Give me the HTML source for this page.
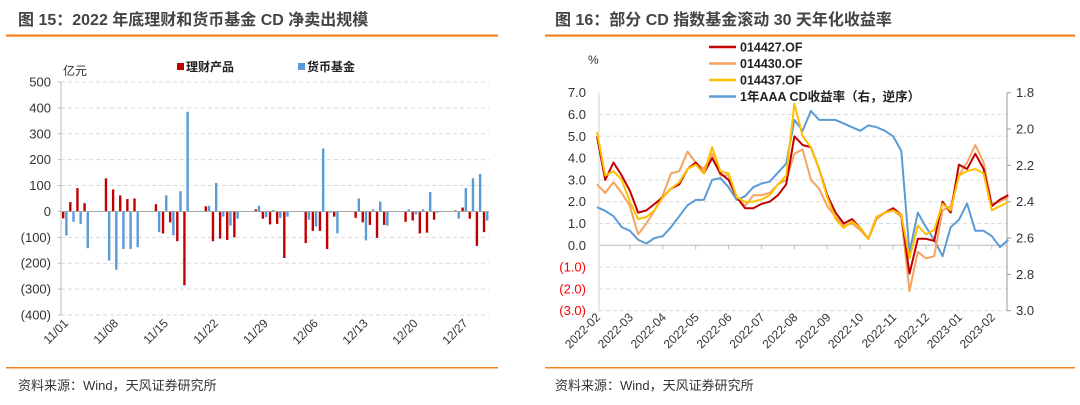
<!DOCTYPE html>
<html><head><meta charset="utf-8">
<style>
html,body{margin:0;padding:0;background:#fff;}
svg{display:block;font-family:"Liberation Sans","Noto Sans CJK SC",sans-serif;}
</style></head>
<body>
<svg id="root" width="1080" height="405" viewBox="0 0 1080 405">
  <g>
    <text x="18" y="25" font-size="16" font-weight="bold" fill="#444">图 15：2022 年底理财和货币基金 CD 净卖出规模</text>
    <rect x="6" y="34.5" width="492" height="2.2" fill="#F5821F"/>
    <rect x="6" y="367" width="492" height="1.5" fill="#F5821F"/>
    <text x="18" y="390" font-size="13" fill="#333">资料来源：Wind，天风证券研究所</text>
    <g id="leftPlot"></g>
  </g>
  <g>
    <text x="555" y="25" font-size="16" font-weight="bold" fill="#444">图 16：部分 CD 指数基金滚动 30 天年化收益率</text>
    <rect x="545" y="34.5" width="530" height="2.2" fill="#F5821F"/>
    <rect x="545" y="367" width="530" height="1.5" fill="#F5821F"/>
    <text x="555" y="390" font-size="13" fill="#333">资料来源：Wind，天风证券研究所</text>
    <g id="rightPlot"></g>
  </g>
</svg>
<script>
// ---------- Left chart data ----------
const leftDayCount = 60;
const leftTickLabels = ["11/01","11/08","11/15","11/22","11/29","12/06","12/13","12/20","12/27"];
const leftYTicks = [500,400,300,200,100,0,-100,-200,-300,-400];
// values indexed by day offset from 11/01 (null = no trading)
const wealthValues = [-27,36,90,32,null,null,128,85,62,48,50,null,null,28,-85,-42,-115,-285,null,null,20,-115,-105,-110,-100,null,null,8,-28,-50,-48,-180,null,null,-122,-75,-75,-145,-20,null,null,-25,-42,-52,-102,-52,null,null,-40,-35,-85,-82,-32,null,null,4,15,-28,-133,-80];
const moneyFundValues = [-93,-40,-48,-142,null,null,-190,-225,-145,-145,-138,null,null,-80,62,-92,78,385,null,null,22,110,-20,-55,-28,null,null,22,-22,5,-25,-20,null,null,-32,-58,243,-5,-85,null,null,50,-112,8,38,-55,null,null,8,-12,8,75,-5,null,null,-28,90,128,145,-35];

// ---------- Right chart data ----------
const monthLabels = ["2022-02","2022-03","2022-04","2022-05","2022-06","2022-07","2022-08","2022-09","2022-10","2022-11","2022-12","2023-01","2023-02"];
const leftAxisTicks = [7,6,5,4,3,2,1,0,-1,-2,-3];
const rightAxisTicks = [1.8,2.0,2.2,2.4,2.6,2.8,3.0];
const sampleStepMonths = 0.25;
const fund014427 = [5.0,3.0,3.8,3.2,2.5,1.5,1.6,1.9,2.2,2.6,2.8,3.5,3.8,3.3,4.0,3.3,3.0,2.2,1.7,1.7,1.9,2.0,2.3,2.8,5.0,4.6,4.5,3.5,2.3,1.5,1.0,1.2,0.8,0.3,1.3,1.5,1.7,1.4,-1.3,0.3,0.3,0.2,2.0,1.5,3.7,3.5,4.2,3.5,1.8,2.1,2.3];
const fund014430 = [2.8,2.4,2.9,2.4,1.8,0.5,1.0,1.6,2.3,3.3,3.4,4.3,3.8,3.5,4.2,3.2,3.2,2.2,1.8,2.3,2.3,2.4,2.8,3.0,4.2,4.4,3.0,2.6,1.8,1.3,0.9,1.0,0.7,0.3,1.2,1.5,1.6,1.3,-2.1,-0.3,-0.6,-0.5,1.6,1.8,3.2,3.8,4.6,3.8,1.9,2.0,2.2];
const fund014437 = [5.2,3.2,3.4,3.0,2.0,1.2,1.3,1.6,2.2,2.6,2.9,3.5,3.7,3.3,4.5,3.4,3.3,2.2,2.0,2.0,2.1,2.3,2.8,3.2,6.5,5.0,4.5,3.5,2.2,1.2,0.8,1.1,0.8,0.3,1.3,1.5,1.6,1.4,-0.6,0.9,0.5,0.7,1.9,1.6,3.2,3.4,3.5,3.3,1.6,1.8,2.0];
const cdYieldAAA = [2.43,2.45,2.48,2.54,2.56,2.61,2.63,2.60,2.59,2.54,2.48,2.42,2.39,2.39,2.28,2.27,2.32,2.39,2.37,2.32,2.30,2.29,2.24,2.19,1.95,2.01,1.90,1.95,1.95,1.95,1.97,1.99,2.01,1.98,1.99,2.01,2.04,2.12,2.68,2.46,2.54,2.61,2.70,2.54,2.50,2.41,2.56,2.56,2.59,2.65,2.61];

const NS = "http://www.w3.org/2000/svg";
function mk(tag, attrs, parent, text){
  const e = document.createElementNS(NS, tag);
  for (const k in attrs) e.setAttribute(k, attrs[k]);
  if (text !== undefined) e.textContent = text;
  parent.appendChild(e);
  return e;
}

// ===== Left chart =====
(function(){
  const g = document.getElementById('leftPlot');
  const x0 = 61, x1 = 489, yTop = 82, yBot = 315;
  const vMax = 500, vMin = -400;
  const y = v => yTop + (vMax - v) / (vMax - vMin) * (yBot - yTop);
  const band = (x1 - x0) / leftDayCount;
  const xc = i => x0 + band * (i + 0.5);

  leftYTicks.forEach(t => {
    if (t !== 0) {
      const l = mk('line', {x1:x0, x2:x1, y1:y(t), y2:y(t), stroke:'#d9d9d9', 'stroke-dasharray':'4,3', 'stroke-width':1}, g);
      
      
    }
    const lab = mk('text', {x:51, y:y(t)+4.5, 'font-size':13, fill:'#333', 'text-anchor':'end'}, g, t < 0 ? '(' + Math.abs(t) + ')' : String(t));
    
    
    const tk = mk('line', {x1:x0-3, x2:x0, y1:y(t), y2:y(t), stroke:'#bbb'}, g);
    
    
  });
  const ax = mk('line', {x1:x0, x2:x0, y1:yTop, y2:yBot, stroke:'#bbb'}, g);
  
  

  const bw = 2.4;
  for (let i = 0; i < leftDayCount; i++) {
    const pairs = [[wealthValues[i], '#C00000', -bw - 0.2, 'bar-wealth'], [moneyFundValues[i], '#5B9BD5', 0.6, 'bar-money-fund']];
    pairs.forEach(p => {
      const v = p[0];
      if (v === null || v === undefined) return;
      const yy = Math.min(y(v), y(0)), h = Math.abs(y(v) - y(0));
      const r = mk('rect', {x:xc(i) + p[2], y:yy, width:bw, height:Math.max(h, 0.5), fill:p[1]}, g);
      
      
    });
  }
  const zl = mk('line', {x1:x0, x2:x1, y1:y(0), y2:y(0), stroke:'#a6a6a6', 'stroke-width':1}, g);
  
  

  leftTickLabels.forEach((lbl, k) => {
    const tx = x0 + band * 7 * k + 8;
    const t = mk('text', {x:tx, y:324, 'font-size':12, fill:'#333', 'text-anchor':'end', transform:'rotate(-45 ' + tx + ' 324)'}, g, lbl);
    
    
  });

  const unit = mk('text', {x:63, y:75, 'font-size':12, fill:'#333'}, g, '亿元');
  
  
  const l1 = mk('rect', {x:177, y:63, width:7, height:7, fill:'#C00000'}, g);
  
  
  const t1 = mk('text', {x:186, y:71, 'font-size':12, 'font-weight':'bold', fill:'#222'}, g, '理财产品');
  
  
  const l2 = mk('rect', {x:298, y:63, width:7, height:7, fill:'#5B9BD5'}, g);
  
  
  const t2 = mk('text', {x:307, y:71, 'font-size':12, 'font-weight':'bold', fill:'#222'}, g, '货币基金');
  
  
})();

// ===== Right chart =====
(function(){
  const g = document.getElementById('rightPlot');
  const x0 = 599, x1 = 1007, yTop = 92.7, yBot = 310.7;
  const yL = v => yTop + (7 - v) / 10 * (yBot - yTop);
  const yR = v => yTop + (v - 1.8) / 1.2 * (yBot - yTop);
  const monthPx = 32.9, xStart = 597;
  const xm = m => xStart + monthPx * m;

  leftAxisTicks.forEach(t => {
    if (t !== 7) {
      const l = mk('line', {x1:x0, x2:x1, y1:yL(t), y2:yL(t), stroke:'#dcdcdc', 'stroke-dasharray':'4,3'}, g);
      
      
    }
    const s = t < 0 ? '(' + Math.abs(t).toFixed(1) + ')' : t.toFixed(1);
    const lab = mk('text', {x:586, y:yL(t)+4.5, 'font-size':13, fill: t < 0 ? '#FF0000' : '#333', 'text-anchor':'end'}, g, s);
    
    
  });
  rightAxisTicks.forEach(t => {
    const lab = mk('text', {x:1016, y:yR(t)+4.5, 'font-size':13, fill:'#333'}, g, t.toFixed(1));
    
    
    const tk = mk('line', {x1:x1, x2:x1+4, y1:yR(t), y2:yR(t), stroke:'#999'}, g);
    
    
  });
  const la = mk('line', {x1:x0, x2:x0, y1:yTop, y2:yBot, stroke:'#d0d0d0'}, g);
  
  
  const ra = mk('line', {x1:x1, x2:x1, y1:yTop, y2:yBot, stroke:'#999'}, g);
  
  
  const za = mk('line', {x1:x0, x2:x1, y1:yL(0), y2:yL(0), stroke:'#bfbfbf'}, g);
  
  

  monthLabels.forEach((lbl, k) => {
    const tx = xm(k);
    if (k > 0) {
      const tk = mk('line', {x1:tx, x2:tx, y1:yL(0), y2:yL(0)+4, stroke:'#bfbfbf'}, g);
      
      
    }
    const t = mk('text', {x:tx+4, y:318, 'font-size':12, fill:'#333', 'text-anchor':'end', transform:'rotate(-45 ' + (tx+4) + ' 318)'}, g, lbl);
    
    
  });

  function path(arr, yf){
    return arr.map((v, i) => (i ? 'L' : 'M') + xm(i * sampleStepMonths).toFixed(1) + ' ' + yf(v).toFixed(1)).join(' ');
  }
  const blue = mk('path', {d:path(cdYieldAAA, yR), fill:'none', stroke:'#5B9BD5', 'stroke-width':2, 'stroke-linejoin':'round'}, g);
  
  
  const orange = mk('path', {d:path(fund014430, yL), fill:'none', stroke:'#F4A460', 'stroke-width':2, 'stroke-linejoin':'round'}, g);
  
  
  const red = mk('path', {d:path(fund014427, yL), fill:'none', stroke:'#C00000', 'stroke-width':2, 'stroke-linejoin':'round'}, g);
  
  
  const yellow = mk('path', {d:path(fund014437, yL), fill:'none', stroke:'#FFC000', 'stroke-width':2, 'stroke-linejoin':'round'}, g);
  
  

  const pct = mk('text', {x:588, y:64, 'font-size':12, fill:'#333'}, g, '%');
  
  

  const legend = [['#C00000','014427.OF','legend-014427'],['#F4A460','014430.OF','legend-014430'],['#FFC000','014437.OF','legend-014437'],['#5B9BD5','1年AAA CD收益率（右，逆序）','legend-cd-yield']];
  legend.forEach((it, k) => {
    const yy = 47 + k * 16.5;
    const ln = mk('line', {x1:709, x2:736, y1:yy, y2:yy, stroke:it[0], 'stroke-width':2.5}, g);
    
    
    const tx = mk('text', {x:740, y:yy+4.5, 'font-size':12.5, 'font-weight':'bold', fill:'#222'}, g, it[1]);
    
    
  });
})();
</script>
</body></html>
